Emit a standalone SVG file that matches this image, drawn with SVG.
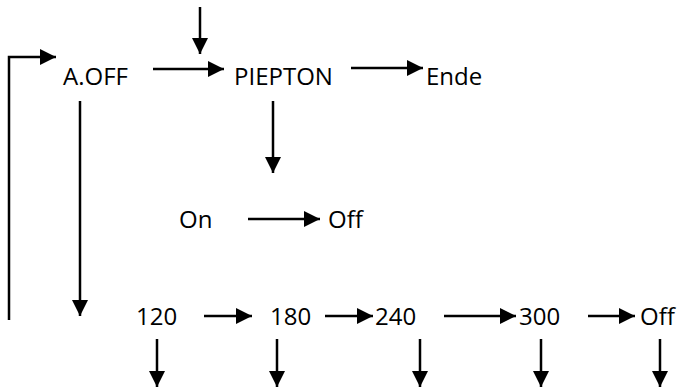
<svg xmlns="http://www.w3.org/2000/svg" width="678" height="387" viewBox="0 0 678 387">
<defs>
<style>
text{font-family:"Open Sans","Noto Sans",sans-serif;font-size:24px;fill:#000}
.c{stroke:#000;stroke-width:2.5;fill:none}
.a{marker-end:url(#ah)}
</style>
<marker id="ah" markerUnits="userSpaceOnUse" markerWidth="16" markerHeight="16" viewBox="0 0 16 16" refX="16" refY="8" orient="auto">
<path d="M0,0 L16,8 L0,16 Z" fill="#000"/>
</marker>
</defs>
<rect width="678" height="387" fill="#fff"/>
<g id="connectors">
<path class="c a" d="M9,320 V57 H56"/>
<path class="c a" d="M200,7 V54"/>
<path class="c a" d="M153,69 H224"/>
<path class="c a" d="M351,68 H423"/>
<path class="c a" d="M80,101 V316"/>
<path class="c a" d="M273,101 V173"/>
<path class="c a" d="M248,219 H320"/>
<path class="c a" d="M204,316 H252"/>
<path class="c a" d="M325,316 H373"/>
<path class="c a" d="M444,316 H516"/>
<path class="c a" d="M588,316 H635"/>
<path class="c a" d="M157,339 V387"/>
<path class="c a" d="M277,339 V387"/>
<path class="c a" d="M420,339 V387"/>
<path class="c a" d="M541,339 V387"/>
<path class="c a" d="M660,339 V387"/>
</g>
<g id="n-aoff"><text x="63" y="85">A.OFF</text></g>
<g id="n-piepton"><text x="234" y="85">PIEPTON</text></g>
<g id="n-ende"><text x="426" y="85">Ende</text></g>
<g id="n-on"><text x="179" y="228">On</text></g>
<g id="n-off1"><text x="328" y="228">Off</text></g>
<g id="n-120"><text x="136" y="325">120</text></g>
<g id="n-180"><text x="270" y="325">180</text></g>
<g id="n-240"><text x="375" y="325">240</text></g>
<g id="n-300"><text x="519" y="325">300</text></g>
<g id="n-off2"><text x="640" y="325">Off</text></g>
</svg>
